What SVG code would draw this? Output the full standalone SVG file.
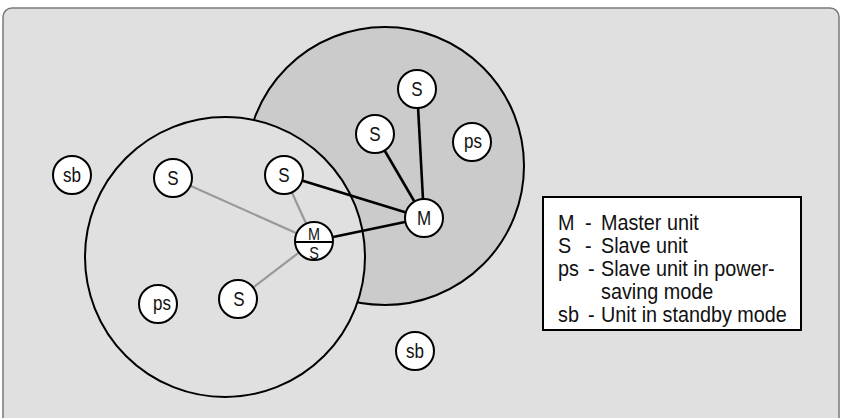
<svg xmlns="http://www.w3.org/2000/svg" width="841" height="418" viewBox="0 0 841 418">
<style>
.node circle{fill:#fff;stroke:#000;stroke-width:2}
.node text,.legend text{font-family:"Liberation Sans",Arial,sans-serif;fill:#111}
.node text{font-size:20px;text-anchor:middle}
.node text.half{font-size:16px}
.blk{stroke:#000;stroke-width:2.6}
.gry{stroke:#999;stroke-width:2.2}
.legend text{font-size:22px}
</style>
<rect x="3" y="8" width="836" height="430" rx="9" fill="#e0e0e0" stroke="#7a7a7a" stroke-width="1.5"/>
<circle id="range-master" cx="385" cy="166" r="139" fill="#cbcbcb" stroke="#000" stroke-width="2"/>
<circle id="range-ms" cx="225" cy="257" r="140" fill="#e0e0e0" stroke="#000" stroke-width="2"/>
<g id="connectors">
<line class="gry" x1="173" y1="178" x2="314" y2="241"/>
<line class="gry" x1="284" y1="175" x2="314" y2="241"/>
<line class="gry" x1="238" y1="299" x2="314" y2="241"/>
<line class="blk" x1="284" y1="175" x2="424" y2="218"/>
<line class="blk" x1="314" y1="241" x2="424" y2="218"/>
<line class="blk" x1="375" y1="134" x2="424" y2="218"/>
<line class="blk" x1="417" y1="88" x2="424" y2="218"/>
</g>
<g id="sb1" class="node"><circle cx="72" cy="175" r="19"/><text transform="translate(72,182) scale(0.85,1)">sb</text></g>
<g id="s1" class="node"><circle cx="173" cy="178" r="19"/><text transform="translate(173,185) scale(0.85,1)">S</text></g>
<g id="s2" class="node"><circle cx="284" cy="175" r="19"/><text transform="translate(284,182) scale(0.85,1)">S</text></g>
<g id="ms" class="node"><circle cx="314" cy="241" r="19"/><line x1="295" y1="242" x2="333" y2="242" stroke="#000" stroke-width="2"/><text class="half" transform="translate(314,239.5) scale(0.9,1)">M</text><text class="half" transform="translate(314,258.5) scale(0.9,1)">S</text></g>
<g id="s3" class="node"><circle cx="238" cy="299" r="19"/><text transform="translate(239,306) scale(0.85,1)">S</text></g>
<g id="ps1" class="node"><circle cx="158" cy="304" r="19"/><text transform="translate(162,310) scale(0.85,1)">ps</text></g>
<g id="m" class="node"><circle cx="424" cy="218" r="19"/><text transform="translate(424,225) scale(0.85,1)">M</text></g>
<g id="s4" class="node"><circle cx="417" cy="89" r="19"/><text transform="translate(417,96) scale(0.85,1)">S</text></g>
<g id="s5" class="node"><circle cx="375" cy="134" r="19"/><text transform="translate(375,141) scale(0.85,1)">S</text></g>
<g id="ps2" class="node"><circle cx="472" cy="142" r="19"/><text transform="translate(473,148) scale(0.85,1)">ps</text></g>
<g id="sb2" class="node"><circle cx="415" cy="351" r="19"/><text transform="translate(415,358) scale(0.85,1)">sb</text></g>
<g id="legend" class="legend">
<rect x="543" y="197" width="258" height="133" fill="#fff" stroke="#000" stroke-width="2"/>
<text transform="translate(558,230) scale(0.9,1)">M</text><text transform="translate(585,230) scale(0.9,1)">-</text><text transform="translate(601,230) scale(0.9,1)">Master unit</text>
<text transform="translate(558,253) scale(0.9,1)">S</text><text transform="translate(585,253) scale(0.9,1)">-</text><text transform="translate(601,253) scale(0.9,1)">Slave unit</text>
<text transform="translate(558,276) scale(0.9,1)">ps</text><text transform="translate(588,276) scale(0.9,1)">-</text><text transform="translate(601,276) scale(0.9,1)">Slave unit in power-</text>
<text transform="translate(601,299) scale(0.9,1)">saving mode</text>
<text transform="translate(558,322) scale(0.9,1)">sb</text><text transform="translate(588,322) scale(0.9,1)">-</text><text transform="translate(601,322) scale(0.9,1)">Unit in standby mode</text>
</g>
</svg>
